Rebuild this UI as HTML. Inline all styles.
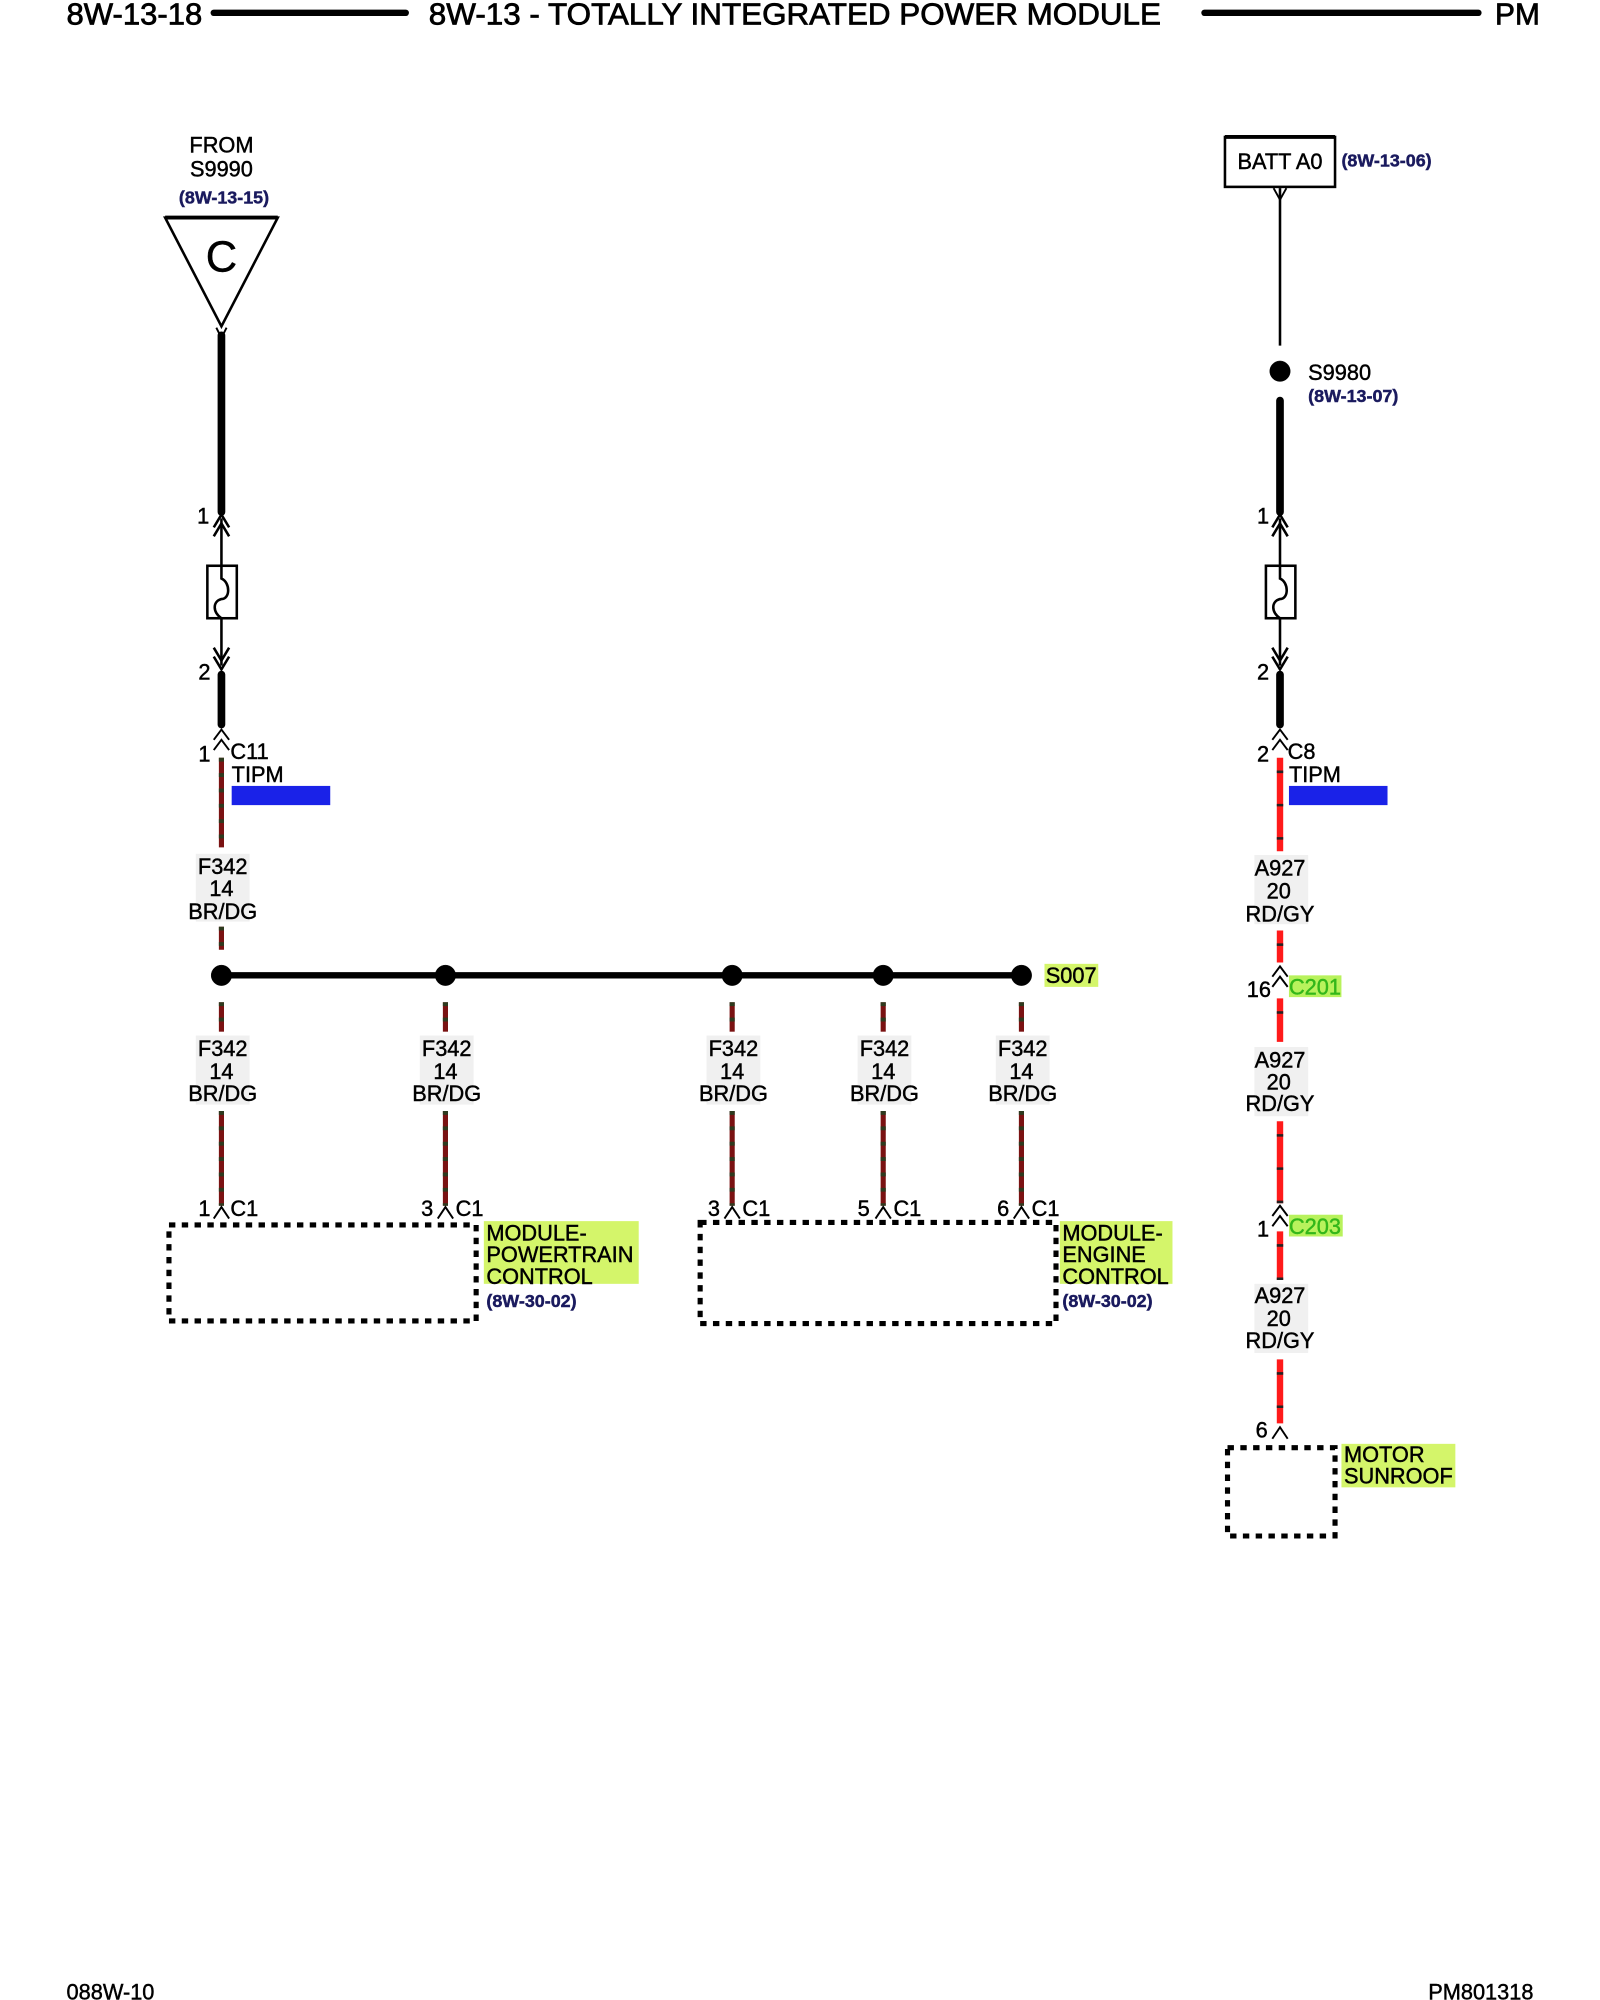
<!DOCTYPE html>
<html><head><meta charset="utf-8"><style>
html,body{margin:0;padding:0;background:#fff;}
svg{display:block;}
text{font-family:"Liberation Sans",Arial,sans-serif;}
</style></head><body>
<svg width="1600" height="2000" viewBox="0 0 1250 1562.5" xmlns="http://www.w3.org/2000/svg">
<rect width="1250" height="1562.5" fill="#fff"/>
<!-- header -->
<g font-size="24" fill="#000" stroke="#000" stroke-width="0.6">
<text x="52" y="19" textLength="106" lengthAdjust="spacingAndGlyphs">8W-13-18</text>
<text x="335" y="19" textLength="572" lengthAdjust="spacingAndGlyphs">8W-13 - TOTALLY INTEGRATED POWER MODULE</text>
<text x="1168" y="19" textLength="35" lengthAdjust="spacingAndGlyphs">PM</text>
</g>
<line x1="167" y1="10" x2="317" y2="10" stroke="#000" stroke-width="5" stroke-linecap="round"/>
<line x1="941" y1="10" x2="1155" y2="10" stroke="#000" stroke-width="5" stroke-linecap="round"/>

<g font-size="17" fill="#000" stroke="#000" stroke-width="0.35">
<!-- LEFT top -->
<text x="173" y="119" text-anchor="middle">FROM</text>
<text x="173" y="138" text-anchor="middle">S9990</text>
<text x="175" y="159" text-anchor="middle" font-size="14" fill="#1a1a5e" stroke="#1a1a5e" font-weight="bold">(8W-13-15)</text>
<polygon points="129,170 217,170 173,255" fill="#fff" stroke="#000" stroke-width="2"/>
<line x1="129" y1="170" x2="217" y2="170" stroke="#000" stroke-width="3"/>
<text x="173" y="212" text-anchor="middle" font-size="34">C</text>
<path d="M169,256 L173,264 L177,256" fill="none" stroke="#000" stroke-width="1.5"/>
<line x1="173" y1="262" x2="173" y2="400" stroke="#000" stroke-width="6" stroke-linecap="round"/>

<!-- RIGHT top -->
<rect x="957" y="107" width="86" height="39" fill="#fff" stroke="#000" stroke-width="2"/>
<line x1="957" y1="107" x2="1043" y2="107" stroke="#000" stroke-width="3"/>
<text x="1000" y="132" text-anchor="middle">BATT A0</text>
<text x="1048" y="130" font-size="14" fill="#1a1a5e" stroke="#1a1a5e" font-weight="bold">(8W-13-06)</text>
<path d="M995,147 L1000,156 L1005,147" fill="none" stroke="#000" stroke-width="1.5"/>
<line x1="1000" y1="147" x2="1000" y2="270" stroke="#000" stroke-width="2"/>
<circle cx="1000" cy="290" r="8" fill="#000"/>
<text x="1022" y="297">S9980</text>
<text x="1022" y="314" font-size="14" fill="#1a1a5e" stroke="#1a1a5e" font-weight="bold">(8W-13-07)</text>
<line x1="1000" y1="313" x2="1000" y2="400" stroke="#000" stroke-width="6" stroke-linecap="round"/>

<!-- fuses -->
<g fill="none" stroke="#000" stroke-width="2">
<path d="M167,412 L173,402 L179,412 M167,419 L173,409 L179,419"/>
<line x1="173" y1="405" x2="173" y2="520"/>
<rect x="162" y="442" width="23" height="41" fill="#fff"/>
<path d="M173,442 L173,452 C180,455 180,468 173,468 C166,470 166,478 173,483"/>
<path d="M167,506 L173,516 L179,506 M167,513 L173,523 L179,513"/>
<path d="M994,412 L1000,402 L1006,412 M994,419 L1000,409 L1006,419"/>
<line x1="1000" y1="405" x2="1000" y2="520"/>
<rect x="989" y="442" width="23" height="41" fill="#fff"/>
<path d="M1000,442 L1000,452 C1007,455 1007,468 1000,468 C993,470 993,478 1000,483"/>
<path d="M994,506 L1000,516 L1006,506 M994,513 L1000,523 L1006,513"/>
</g>
<text x="154" y="409">1</text><text x="155" y="531">2</text>
<text x="982" y="409">1</text><text x="982" y="531">2</text>
<line x1="173" y1="527" x2="173" y2="566" stroke="#000" stroke-width="6" stroke-linecap="round"/>
<line x1="1000" y1="527" x2="1000" y2="566" stroke="#000" stroke-width="6" stroke-linecap="round"/>
<path d="M167,578 L173,570 L179,578 M167,586 L173,578 L179,586" fill="none" stroke="#000" stroke-width="1.5"/>
<path d="M994,578 L1000,570 L1006,578 M994,586 L1000,578 L1006,586" fill="none" stroke="#000" stroke-width="1.5"/>
<text x="155" y="595">1</text><text x="180" y="593">C11</text><text x="181" y="611">TIPM</text>
<rect x="181" y="614" width="77" height="15" fill="#1a22e8" stroke="none"/>
<text x="982" y="595">2</text><text x="1006" y="593">C8</text><text x="1007" y="611">TIPM</text>
<rect x="1007" y="614" width="77" height="15" fill="#1a22e8" stroke="none"/>

<!-- BR/DG wires -->
<g stroke-width="4">
<g stroke="#7a1212">
<line x1="173" y1="592" x2="173" y2="662"/><line x1="173" y1="724" x2="173" y2="742"/>
</g>
<g stroke="#2d3a1e" stroke-dasharray="3 9">
<line x1="173" y1="592" x2="173" y2="662"/><line x1="173" y1="724" x2="173" y2="742"/>
</g>
</g>
<rect x="153" y="667" width="42" height="53" fill="#f0f0f0" stroke="none"/>
<text x="174" y="683" text-anchor="middle">F342</text>
<text x="173" y="700" text-anchor="middle">14</text>
<text x="174" y="718" text-anchor="middle">BR/DG</text>

<!-- splice row -->
<line x1="173" y1="762" x2="798" y2="762" stroke="#000" stroke-width="5"/>
<g fill="#000">
<circle cx="173" cy="762" r="8"/><circle cx="348" cy="762" r="8"/><circle cx="572" cy="762" r="8"/><circle cx="690" cy="762" r="8"/><circle cx="798" cy="762" r="8"/>
</g>
<rect x="816" y="753" width="42" height="18" fill="#d4f56a" stroke="none"/>
<text x="817" y="768">S007</text>

<!-- branches -->
<g>
<g stroke-width="4" stroke="#7a1212">
<line x1="173" y1="783" x2="173" y2="806"/><line x1="173" y1="868" x2="173" y2="942"/>
<line x1="348" y1="783" x2="348" y2="806"/><line x1="348" y1="868" x2="348" y2="942"/>
<line x1="572" y1="783" x2="572" y2="806"/><line x1="572" y1="868" x2="572" y2="942"/>
<line x1="690" y1="783" x2="690" y2="806"/><line x1="690" y1="868" x2="690" y2="942"/>
<line x1="798" y1="783" x2="798" y2="806"/><line x1="798" y1="868" x2="798" y2="942"/>
</g>
<g stroke-width="4" stroke="#2d3a1e" stroke-dasharray="3 9">
<line x1="173" y1="783" x2="173" y2="806"/><line x1="173" y1="868" x2="173" y2="942"/>
<line x1="348" y1="783" x2="348" y2="806"/><line x1="348" y1="868" x2="348" y2="942"/>
<line x1="572" y1="783" x2="572" y2="806"/><line x1="572" y1="868" x2="572" y2="942"/>
<line x1="690" y1="783" x2="690" y2="806"/><line x1="690" y1="868" x2="690" y2="942"/>
<line x1="798" y1="783" x2="798" y2="806"/><line x1="798" y1="868" x2="798" y2="942"/>
</g>
</g>
<g fill="#f0f0f0" stroke="none">
<rect x="153" y="809" width="42" height="54"/><rect x="328" y="809" width="42" height="54"/><rect x="552" y="809" width="42" height="54"/><rect x="670" y="809" width="42" height="54"/><rect x="778" y="809" width="42" height="54"/>
</g>
<g text-anchor="middle">
<text x="174" y="825">F342</text><text x="173" y="843">14</text><text x="174" y="860">BR/DG</text>
<text x="349" y="825">F342</text><text x="348" y="843">14</text><text x="349" y="860">BR/DG</text>
<text x="573" y="825">F342</text><text x="572" y="843">14</text><text x="573" y="860">BR/DG</text>
<text x="691" y="825">F342</text><text x="690" y="843">14</text><text x="691" y="860">BR/DG</text>
<text x="799" y="825">F342</text><text x="798" y="843">14</text><text x="799" y="860">BR/DG</text>
</g>
<g fill="none" stroke="#000" stroke-width="1.5">
<path d="M167,952 L173,943 L179,952"/><path d="M342,952 L348,943 L354,952"/><path d="M566,952 L572,943 L578,952"/><path d="M684,952 L690,943 L696,952"/><path d="M792,952 L798,943 L804,952"/>
</g>
<text x="155" y="950">1</text><text x="180" y="950">C1</text>
<text x="329" y="950">3</text><text x="356" y="950">C1</text>
<text x="553" y="950">3</text><text x="580" y="950">C1</text>
<text x="670" y="950">5</text><text x="698" y="950">C1</text>
<text x="779" y="950">6</text><text x="806" y="950">C1</text>

<!-- module boxes -->
<g fill="none" stroke="#000" stroke-width="4" stroke-dasharray="5 5">
<rect x="132" y="957" width="240" height="75"/>
<rect x="547" y="955" width="278" height="79"/>
<rect x="959" y="1131" width="84" height="69"/>
</g>
<rect x="378" y="954" width="121" height="49" fill="#d4f56a" stroke="none"/>
<text x="380" y="969">MODULE-</text><text x="380" y="986">POWERTRAIN</text><text x="380" y="1003">CONTROL</text>
<text x="380" y="1021" font-size="14" fill="#1a1a5e" stroke="#1a1a5e" font-weight="bold">(8W-30-02)</text>
<rect x="828" y="954" width="88" height="49" fill="#d4f56a" stroke="none"/>
<text x="830" y="969">MODULE-</text><text x="830" y="986">ENGINE</text><text x="830" y="1003">CONTROL</text>
<text x="830" y="1021" font-size="14" fill="#1a1a5e" stroke="#1a1a5e" font-weight="bold">(8W-30-02)</text>

<!-- right red wire -->
<g stroke-width="5" stroke="#ff1a1a">
<line x1="1000" y1="592" x2="1000" y2="665"/><line x1="1000" y1="727" x2="1000" y2="752"/>
<line x1="1000" y1="780" x2="1000" y2="814"/><line x1="1000" y1="876" x2="1000" y2="940"/>
<line x1="1000" y1="962" x2="1000" y2="1000"/><line x1="1000" y1="1062" x2="1000" y2="1112"/>
</g>
<g stroke-width="5" stroke="#222" stroke-dasharray="2 24" stroke-dashoffset="-10">
<line x1="1000" y1="592" x2="1000" y2="665"/><line x1="1000" y1="727" x2="1000" y2="752"/>
<line x1="1000" y1="780" x2="1000" y2="814"/><line x1="1000" y1="876" x2="1000" y2="940"/>
<line x1="1000" y1="962" x2="1000" y2="1000"/><line x1="1000" y1="1062" x2="1000" y2="1112"/>
</g>
<g fill="#f0f0f0" stroke="none">
<rect x="980" y="668" width="42" height="54"/><rect x="980" y="818" width="42" height="54"/><rect x="980" y="1003" width="42" height="54"/>
</g>
<g text-anchor="middle">
<text x="1000" y="684">A927</text><text x="999" y="702">20</text><text x="1000" y="720">RD/GY</text>
<text x="1000" y="834">A927</text><text x="999" y="851">20</text><text x="1000" y="868">RD/GY</text>
<text x="1000" y="1018">A927</text><text x="999" y="1036">20</text><text x="1000" y="1053">RD/GY</text>
</g>
<g fill="none" stroke="#000" stroke-width="1.5">
<path d="M994,763 L1000,755 L1006,763 M994,771 L1000,763 L1006,771"/>
<path d="M994,950 L1000,942 L1006,950 M994,958 L1000,950 L1006,958"/>
<path d="M994,1124 L1000,1115 L1006,1124"/>
</g>
<text x="974" y="779">16</text>
<rect x="1007" y="762" width="41" height="17" fill="#b8f25c" stroke="none"/>
<text x="1007" y="777" fill="#33b71a" stroke="#33b71a">C201</text>
<text x="982" y="966">1</text>
<rect x="1007" y="949" width="42" height="17" fill="#b8f25c" stroke="none"/>
<text x="1007" y="964" fill="#33b71a" stroke="#33b71a">C203</text>
<text x="981" y="1123">6</text>
<rect x="1048" y="1128" width="89" height="34" fill="#d4f56a" stroke="none"/>
<text x="1050" y="1142">MOTOR</text><text x="1050" y="1159">SUNROOF</text>

<!-- footer -->
<text x="52" y="1562">088W-10</text>
<text x="1198" y="1562" text-anchor="end">PM801318</text>
</g>
</svg>
</body></html>
